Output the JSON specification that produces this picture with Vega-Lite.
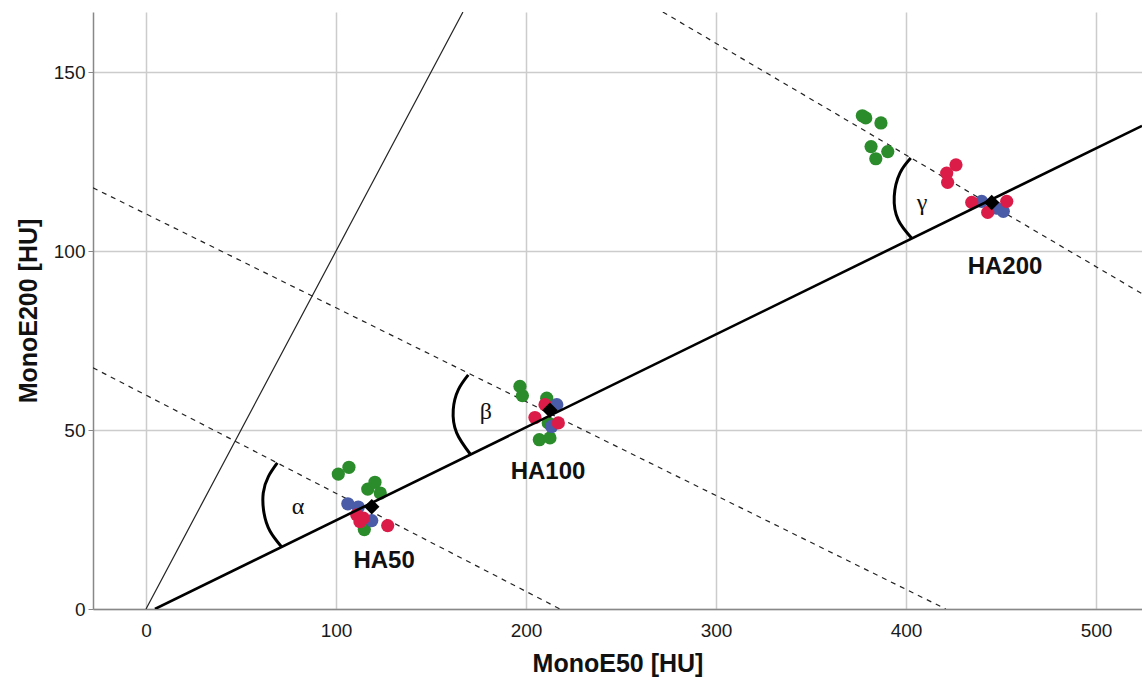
{
  "$schema": "https://vega.github.io/schema/vega-lite/v6.json",
  "width": 1049,
  "height": 597,
  "autosize": {"type": "none"},
  "padding": {"left": 93, "top": 12, "right": 0, "bottom": 77},
  "background": "white",
  "config": {
    "view": {"stroke": null},
    "font": "Liberation Sans",
    "axis": {
      "gridColor": "#cccccc",
      "gridWidth": 1.5,
      "domainColor": "#888888",
      "domainWidth": 1.5,
      "tickColor": "#888888",
      "tickSize": 5,
      "labelFont": "Liberation Sans",
      "labelFontSize": 19,
      "labelColor": "#1a1a1a",
      "titleFont": "Liberation Sans",
      "titleFontSize": 25,
      "titleFontWeight": "bold",
      "titleColor": "#111111"
    }
  },
  "datasets": {
    "points": [
      {"cluster": "HA50", "series": "S1", "x": 101.2, "y": 37.7},
      {"cluster": "HA50", "series": "S1", "x": 106.8, "y": 39.6},
      {"cluster": "HA50", "series": "S1", "x": 116.7, "y": 33.5},
      {"cluster": "HA50", "series": "S1", "x": 120.5, "y": 35.4},
      {"cluster": "HA50", "series": "S1", "x": 123.3, "y": 32.4},
      {"cluster": "HA50", "series": "S1", "x": 114.9, "y": 22.2},
      {"cluster": "HA50", "series": "S2", "x": 106.2, "y": 29.4},
      {"cluster": "HA50", "series": "S2", "x": 111.7, "y": 28.5},
      {"cluster": "HA50", "series": "S2", "x": 118.8, "y": 24.7},
      {"cluster": "HA50", "series": "S3", "x": 110.9, "y": 26.3},
      {"cluster": "HA50", "series": "S3", "x": 114.4, "y": 25.4},
      {"cluster": "HA50", "series": "S3", "x": 112.6, "y": 24.4},
      {"cluster": "HA50", "series": "S3", "x": 127.2, "y": 23.3},
      {"cluster": "HA100", "series": "S1", "x": 196.8, "y": 62.2},
      {"cluster": "HA100", "series": "S1", "x": 198.1, "y": 59.6},
      {"cluster": "HA100", "series": "S1", "x": 210.9, "y": 58.9},
      {"cluster": "HA100", "series": "S1", "x": 211.7, "y": 52.0},
      {"cluster": "HA100", "series": "S1", "x": 207.0, "y": 47.3},
      {"cluster": "HA100", "series": "S1", "x": 212.6, "y": 47.8},
      {"cluster": "HA100", "series": "S2", "x": 216.2, "y": 57.1},
      {"cluster": "HA100", "series": "S2", "x": 213.5, "y": 51.0},
      {"cluster": "HA100", "series": "S3", "x": 204.7, "y": 53.5},
      {"cluster": "HA100", "series": "S3", "x": 210.0, "y": 57.1},
      {"cluster": "HA100", "series": "S3", "x": 217.0, "y": 52.0},
      {"cluster": "HA200", "series": "S1", "x": 377.0, "y": 137.8},
      {"cluster": "HA200", "series": "S1", "x": 378.8, "y": 137.2},
      {"cluster": "HA200", "series": "S1", "x": 386.8, "y": 135.8},
      {"cluster": "HA200", "series": "S1", "x": 381.6, "y": 129.2},
      {"cluster": "HA200", "series": "S1", "x": 390.4, "y": 127.8},
      {"cluster": "HA200", "series": "S1", "x": 384.1, "y": 125.8},
      {"cluster": "HA200", "series": "S2", "x": 439.8, "y": 113.9},
      {"cluster": "HA200", "series": "S2", "x": 451.2, "y": 111.1},
      {"cluster": "HA200", "series": "S2", "x": 447.7, "y": 112.0},
      {"cluster": "HA200", "series": "S3", "x": 426.3, "y": 124.1},
      {"cluster": "HA200", "series": "S3", "x": 421.4, "y": 121.8},
      {"cluster": "HA200", "series": "S3", "x": 421.9, "y": 119.2},
      {"cluster": "HA200", "series": "S3", "x": 434.6, "y": 113.6},
      {"cluster": "HA200", "series": "S3", "x": 443.0, "y": 110.8},
      {"cluster": "HA200", "series": "S3", "x": 453.0, "y": 113.9}
    ],
    "means": [
      {"cluster": "HA50", "x": 118.8, "y": 28.6},
      {"cluster": "HA100", "x": 212.6, "y": 55.5},
      {"cluster": "HA200", "x": 445.1, "y": 113.6}
    ],
    "lines": [
      {"line": "identity", "kind": "identity", "o": 0, "x": 0, "y": 0},
      {"line": "identity", "kind": "identity", "o": 1, "x": 166.8, "y": 166.8},
      {"line": "regression", "kind": "regression", "o": 0, "x": 4.7, "y": 0},
      {"line": "regression", "kind": "regression", "o": 1, "x": 524.2, "y": 135.0},
      {"line": "g50", "kind": "guide", "o": 0, "x": -27.9, "y": 67.4},
      {"line": "g50", "kind": "guide", "o": 1, "x": 217.9, "y": 0},
      {"line": "g100", "kind": "guide", "o": 0, "x": -27.9, "y": 117.7},
      {"line": "g100", "kind": "guide", "o": 1, "x": 420.9, "y": 0},
      {"line": "g200", "kind": "guide", "o": 0, "x": 272.0, "y": 166.8},
      {"line": "g200", "kind": "guide", "o": 1, "x": 524.2, "y": 88.1}
    ],
    "arcs": [
      {"arc": "alpha", "o": 0, "x": 69.1, "y": 40.8},
      {"arc": "alpha", "o": 1, "x": 64.4, "y": 37.0},
      {"arc": "alpha", "o": 2, "x": 61.7, "y": 32.4},
      {"arc": "alpha", "o": 3, "x": 62.1, "y": 26.8},
      {"arc": "alpha", "o": 4, "x": 65.3, "y": 21.7},
      {"arc": "alpha", "o": 5, "x": 71.4, "y": 17.3},
      {"arc": "beta", "o": 0, "x": 169.6, "y": 65.4},
      {"arc": "beta", "o": 1, "x": 164.4, "y": 61.3},
      {"arc": "beta", "o": 2, "x": 161.7, "y": 55.7},
      {"arc": "beta", "o": 3, "x": 163.5, "y": 49.2},
      {"arc": "beta", "o": 4, "x": 170.9, "y": 43.1},
      {"arc": "gamma", "o": 0, "x": 402.5, "y": 126.0},
      {"arc": "gamma", "o": 1, "x": 396.8, "y": 121.8},
      {"arc": "gamma", "o": 2, "x": 393.8, "y": 115.3},
      {"arc": "gamma", "o": 3, "x": 395.9, "y": 108.7},
      {"arc": "gamma", "o": 4, "x": 403.0, "y": 103.6}
    ],
    "labels": [
      {"text": "HA50", "x": 125.3, "y": 13.5},
      {"text": "HA100", "x": 211.6, "y": 38.4},
      {"text": "HA200", "x": 452.1, "y": 95.6}
    ],
    "greek": [
      {"text": "α", "x": 80.0, "y": 28.6},
      {"text": "β", "x": 178.9, "y": 55.1},
      {"text": "γ", "x": 408.4, "y": 113.5}
    ]
  },
  "encoding": {
    "x": {
      "field": "x", "type": "quantitative",
      "scale": {"domain": [-27.9, 524.2], "nice": false, "zero": false},
      "axis": {"values": [0, 100, 200, 300, 400, 500], "title": "MonoE50 [HU]", "titlePadding": 11, "labelPadding": 12, "ticks": false}
    },
    "y": {
      "field": "y", "type": "quantitative",
      "scale": {"domain": [0, 166.8], "nice": false},
      "axis": {"values": [0, 50, 100, 150], "title": "MonoE200 [HU]", "titlePadding": 12, "labelPadding": 3}
    }
  },
  "layer": [
    {
      "data": {"name": "lines"},
      "transform": [{"filter": "datum.kind === 'guide'"}],
      "mark": {"type": "line", "color": "#222222", "strokeWidth": 1.2, "strokeDash": [5, 5], "clip": true},
      "encoding": {"detail": {"field": "line"}, "order": {"field": "o"}}
    },
    {
      "data": {"name": "lines"},
      "transform": [{"filter": "datum.kind === 'identity'"}],
      "mark": {"type": "line", "color": "#222222", "strokeWidth": 1.2, "clip": true},
      "encoding": {"detail": {"field": "line"}, "order": {"field": "o"}}
    },
    {
      "data": {"name": "points"},
      "mark": {"type": "circle", "size": 175, "opacity": 1},
      "encoding": {
        "color": {
          "field": "series", "type": "nominal",
          "scale": {"domain": ["S1", "S2", "S3"], "range": ["#2b8c2b", "#4a5ca8", "#dc1c48"]},
          "legend": null
        }
      }
    },
    {
      "data": {"name": "lines"},
      "transform": [{"filter": "datum.kind === 'regression'"}],
      "mark": {"type": "line", "color": "#000000", "strokeWidth": 2.6, "clip": true},
      "encoding": {"detail": {"field": "line"}, "order": {"field": "o"}}
    },
    {
      "data": {"name": "arcs"},
      "mark": {"type": "line", "color": "#000000", "strokeWidth": 3, "interpolate": "natural"},
      "encoding": {"detail": {"field": "arc"}, "order": {"field": "o"}}
    },
    {
      "data": {"name": "means"},
      "mark": {"type": "point", "shape": "diamond", "filled": true, "color": "#000000", "size": 240, "opacity": 1}
    },
    {
      "data": {"name": "labels"},
      "mark": {"type": "text", "font": "Liberation Sans", "fontSize": 24, "fontWeight": "bold", "color": "#111111", "align": "center", "baseline": "middle"},
      "encoding": {"text": {"field": "text"}}
    },
    {
      "data": {"name": "greek"},
      "mark": {"type": "text", "font": "Liberation Serif", "fontSize": 24, "color": "#111111", "align": "center", "baseline": "middle"},
      "encoding": {"text": {"field": "text"}}
    }
  ]
}
